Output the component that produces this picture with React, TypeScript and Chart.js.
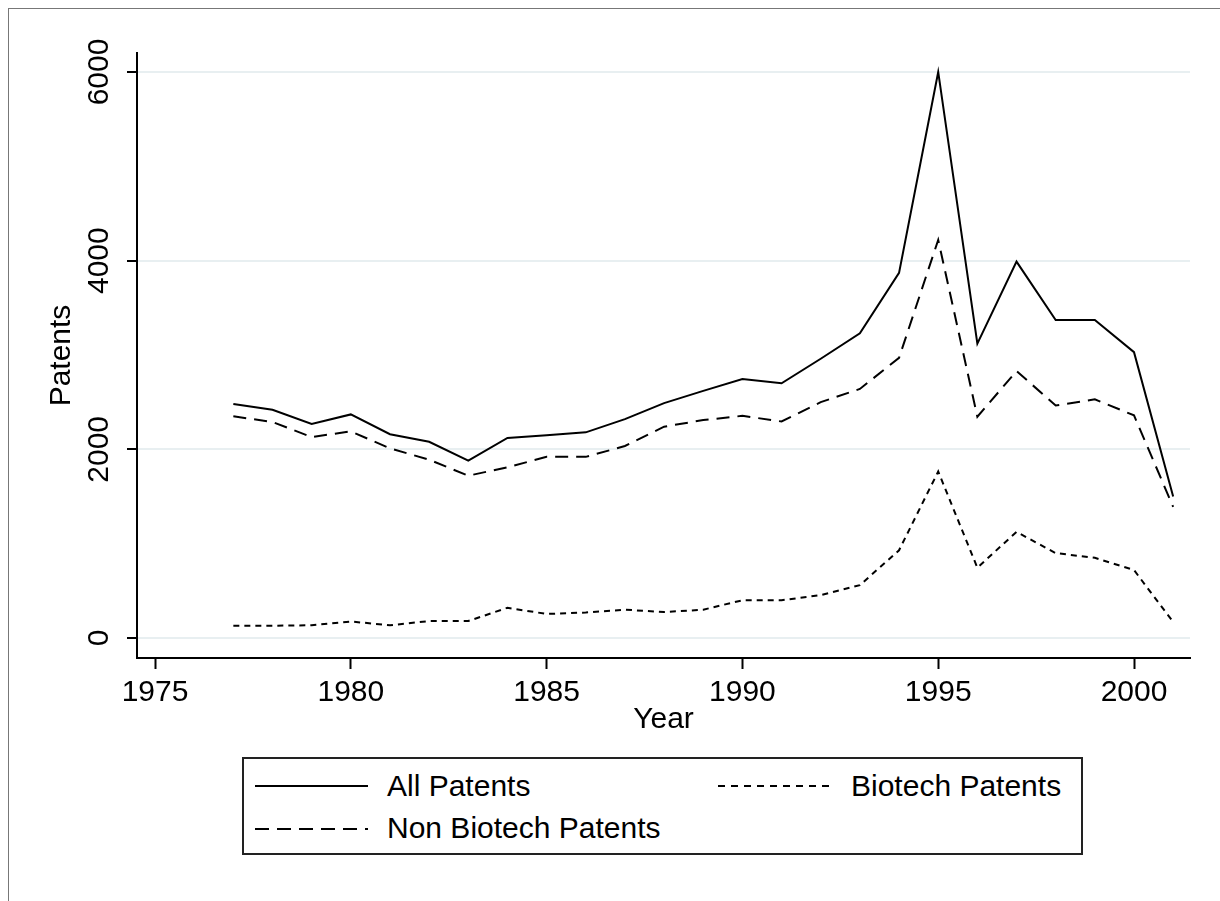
import React, { useEffect, useRef } from "react";
import { Chart, registerables } from "chart.js";

Chart.register(...registerables);

// ---- Data ----
const years = [
  1977, 1978, 1979, 1980, 1981, 1982, 1983, 1984, 1985, 1986, 1987, 1988, 1989,
  1990, 1991, 1992, 1993, 1994, 1995, 1996, 1997, 1998, 1999, 2000, 2001,
];
const allPatents = [
  2480, 2420, 2270, 2370, 2160, 2080, 1880, 2120, 2150, 2180, 2320, 2490, 2620,
  2745, 2700, 2960, 3230, 3870, 6000, 3120, 3990, 3370, 3370, 3030, 1500,
];
const nonBiotechPatents = [
  2350, 2290, 2130, 2190, 2010, 1890, 1720, 1810, 1920, 1920, 2035, 2240, 2310,
  2355, 2295, 2500, 2640, 2970, 4220, 2345, 2830, 2465, 2530, 2360, 1390,
];
const biotechPatents = [
  130, 130, 135, 175, 135, 180, 180, 320, 255, 270, 300, 275, 300, 400, 400,
  455, 560, 930, 1765, 745, 1125, 900, 850, 720, 170,
];
const xTickValues = [1975, 1980, 1985, 1990, 1995, 2000];
const yTickValues = [0, 2000, 4000, 6000];
const xTitle = "Year";
const yTitle = "Patents";
const labelAll = "All Patents";
const labelBio = "Biotech Patents";
const labelNon = "Non Biotech Patents";

const FONT = "'Liberation Sans', Arial, Helvetica, sans-serif";

function toPoints(values: number[]) {
  return years.map((yr, i) => ({ x: yr, y: values[i] }));
}

function LegendSample({ dash }: { dash?: string }) {
  return (
    <svg width={113} height={4} style={{ display: "block" }}>
      <line
        x1={0}
        y1={2}
        x2={113}
        y2={2}
        stroke="#000"
        strokeWidth={2}
        strokeDasharray={dash}
      />
    </svg>
  );
}

export default function App() {
  const canvasRef = useRef<HTMLCanvasElement | null>(null);

  useEffect(() => {
    const canvas = canvasRef.current;
    if (!canvas) return;
    const tickFont = { family: FONT, size: 30 };
    const chart = new Chart(canvas, {
      type: "line",
      data: {
        datasets: [
          {
            label: labelAll,
            data: toPoints(allPatents),
            borderColor: "#000",
            borderWidth: 2,
            pointRadius: 0,
            tension: 0,
            fill: false,
          },
          {
            label: labelNon,
            data: toPoints(nonBiotechPatents),
            borderColor: "#000",
            borderWidth: 2,
            borderDash: [13, 8],
            pointRadius: 0,
            tension: 0,
            fill: false,
          },
          {
            label: labelBio,
            data: toPoints(biotechPatents),
            borderColor: "#000",
            borderWidth: 2,
            borderDash: [6, 5],
            pointRadius: 0,
            tension: 0,
            fill: false,
          },
        ],
      },
      options: {
        responsive: false,
        animation: false,
        devicePixelRatio: 1,
        layout: { padding: { top: 53, right: 30, bottom: 161, left: 0 } },
        plugins: {
          legend: { display: false },
          tooltip: { enabled: false },
        },
        scales: {
          x: {
            type: "linear",
            min: 1974.54,
            max: 2001.43,
            afterBuildTicks: (scale: any) => {
              scale.ticks = xTickValues.map((v) => ({ value: v }));
            },
            afterFit: (scale: any) => {
              scale.height = 82;
            },
            grid: {
              drawOnChartArea: false,
              drawTicks: true,
              tickLength: 11,
              tickColor: "#000",
              tickWidth: 2,
            },
            border: { display: true, color: "#000", width: 2 },
            ticks: {
              color: "#000",
              font: tickFont,
              padding: 6,
              maxRotation: 0,
              minRotation: 0,
              autoSkip: false,
              callback: (v: any) => String(v),
            },
            title: {
              display: true,
              text: xTitle,
              color: "#000",
              font: tickFont,
              padding: { top: 0, bottom: 2 },
            },
          },
          y: {
            type: "linear",
            min: -212,
            max: 6201,
            afterBuildTicks: (scale: any) => {
              scale.ticks = yTickValues.map((v) => ({ value: v }));
            },
            afterFit: (scale: any) => {
              scale.width = 137;
            },
            grid: {
              color: "#e8eff1",
              lineWidth: 2,
              drawTicks: true,
              tickLength: 10,
              tickColor: "#000",
              tickWidth: 2,
            },
            border: { display: true, color: "#000", width: 2 },
            ticks: {
              color: "#000",
              font: tickFont,
              minRotation: 90,
              maxRotation: 90,
              crossAlign: "center",
              padding: -6,
              autoSkip: false,
              callback: (v: any) => String(v),
            },
            title: {
              display: true,
              text: yTitle,
              color: "#000",
              font: tickFont,
              padding: { top: 44, bottom: 0 },
            },
          },
        },
      } as any,
    });
    return () => chart.destroy();
  }, []);

  const textStyle: React.CSSProperties = {
    position: "absolute",
    fontFamily: FONT,
    fontSize: 30,
    lineHeight: "30px",
    color: "#000",
    whiteSpace: "nowrap",
  };

  return (
    <div
      style={{
        position: "absolute",
        left: 0,
        top: 0,
        width: 1220,
        height: 901,
        overflow: "hidden",
        background: "#fff",
      }}
    >
      <canvas
        ref={canvasRef}
        width={1220}
        height={901}
        style={{ position: "absolute", left: 0, top: 0, width: 1220, height: 901 }}
      />
      <div
        style={{
          position: "absolute",
          left: 8,
          top: 8,
          width: 1212,
          height: 893,
          borderTop: "1px solid #777",
          borderLeft: "1px solid #777",
          boxSizing: "border-box",
          pointerEvents: "none",
        }}
      />
      <div
        style={{
          position: "absolute",
          left: 242,
          top: 757,
          width: 841,
          height: 98,
          border: "2px solid #222",
          boxSizing: "border-box",
          background: "#fff",
        }}
      >
        <div style={{ position: "absolute", left: 11, top: 25 }}>
          <LegendSample />
        </div>
        <div style={{ ...textStyle, left: 143, top: 12 }}>{labelAll}</div>
        <div style={{ position: "absolute", left: 474, top: 25 }}>
          <LegendSample dash="7 6" />
        </div>
        <div style={{ ...textStyle, left: 607, top: 12 }}>{labelBio}</div>
        <div style={{ position: "absolute", left: 11, top: 68 }}>
          <LegendSample dash="14 8" />
        </div>
        <div style={{ ...textStyle, left: 143, top: 54 }}>{labelNon}</div>
      </div>
    </div>
  );
}
